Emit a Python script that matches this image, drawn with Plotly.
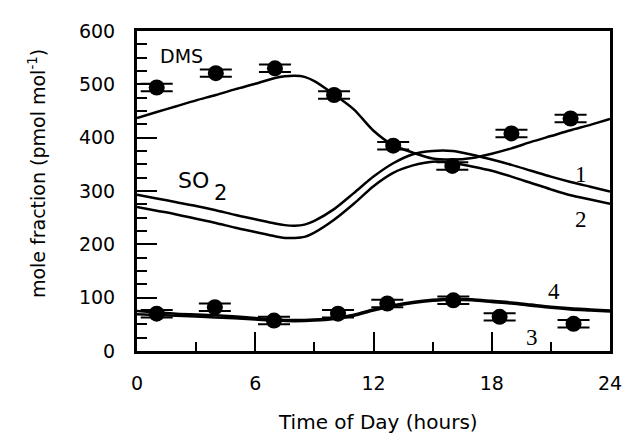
import plotly.graph_objects as go

# ---- measured data points ----
dms_obs_hour = [1, 4, 7, 10, 13, 16, 19, 22]
dms_obs_val = [494, 521, 530, 480, 385, 347, 408, 436]
dms_obs_err = [7, 7, 7, 7, 7, 7, 7, 7]

low_obs_hour = [1, 3.95, 6.95, 10.2, 12.7, 16.05, 18.4, 22.15]
low_obs_val = [70, 82, 57, 70, 89, 95, 64, 51]
low_obs_err = [7, 7, 7, 7, 7, 7, 7, 7]

# ---- model curves ----
dms_model_hour = [0, 1, 2, 3, 4, 5, 6, 7, 7.5, 8, 8.5, 9, 10, 11, 12, 13, 14, 15, 16, 17, 18, 19, 20, 21, 22, 23, 24]
dms_model_val = [437, 448, 459, 470, 480, 491, 501, 512, 515, 516, 514, 506, 481, 453, 413, 386, 372, 361, 359, 362, 370, 380, 392, 403, 414, 424, 435]

so2_1_hour = [0, 1, 2, 3, 4, 5, 6, 7, 7.5, 8, 8.5, 9, 10, 11, 12, 13, 14, 15, 16, 17, 18, 19, 20, 21, 22, 23, 24]
so2_1_val = [293, 286, 279, 272, 264, 255, 247, 239, 236, 235, 237, 244, 266, 296, 327, 352, 369, 375, 375, 368, 359, 349, 338, 327, 317, 308, 299]

so2_2_hour = [0, 1, 2, 3, 4, 5, 6, 7, 7.5, 8, 8.5, 9, 10, 11, 12, 13, 14, 15, 16, 17, 18, 19, 20, 21, 22, 23, 24]
so2_2_val = [270, 263, 256, 248, 240, 231, 223, 215, 212, 212, 214, 222, 246, 276, 309, 334, 348, 355, 353, 346, 338, 327, 315, 303, 292, 284, 276]

line3_hour = [0, 2, 4, 6, 7, 8, 9, 10, 11, 12, 13, 14, 15, 16, 17, 18, 19, 20, 21, 22, 23, 24]
line3_val = [69, 66, 63, 59, 57, 56, 57, 60, 66, 76, 84, 90, 94, 96, 95, 92, 89, 85, 81, 78, 76, 74]

line4_hour = [0, 2, 4, 6, 7, 8, 9, 10, 11, 12, 13, 14, 15, 16, 17, 18, 19, 20, 21, 22, 23, 24]
line4_val = [75, 70, 67, 62, 59, 58, 59, 62, 68, 78, 86, 92, 96, 98, 97, 94, 91, 87, 83, 80, 78, 76]

x_tick_vals = [0, 6, 12, 18, 24]
y_tick_vals = [0, 100, 200, 300, 400, 500, 600]

fig = go.Figure()

line_style = dict(color="black", width=2.5, shape="spline", smoothing=0.8)
for hx, vy in [(dms_model_hour, dms_model_val), (so2_1_hour, so2_1_val),
               (so2_2_hour, so2_2_val), (line3_hour, line3_val), (line4_hour, line4_val)]:
    fig.add_trace(go.Scatter(x=hx, y=vy, mode="lines", line=line_style,
                             hoverinfo="skip", showlegend=False))

marker_style = dict(color="black", size=16, symbol="circle")
for hx, vy, err in [(dms_obs_hour, dms_obs_val, dms_obs_err), (low_obs_hour, low_obs_val, low_obs_err)]:
    fig.add_trace(go.Scatter(
        x=hx, y=vy, mode="markers", marker=marker_style,
        error_y=dict(type="data", array=err, visible=True, color="black", thickness=2, width=16),
        showlegend=False))

ann = []
sans = "DejaVu Sans"
serif = "Liberation Serif"
ann.append(dict(x=2.27, y=554, text="DMS", font=dict(family=sans, size=19)))
ann.append(dict(x=2.87, y=319, text="SO", font=dict(family=sans, size=22)))
ann.append(dict(x=4.24, y=296, text="2", font=dict(family=sans, size=21)))
ann.append(dict(x=22.55, y=331, text="1", font=dict(family=serif, size=23)))
ann.append(dict(x=22.55, y=247, text="2", font=dict(family=serif, size=23)))
ann.append(dict(x=20.06, y=25, text="3", font=dict(family=serif, size=23)))
ann.append(dict(x=21.16, y=112, text="4", font=dict(family=serif, size=23)))
for a in ann:
    a.update(xref="x", yref="y", showarrow=False, xanchor="center", yanchor="middle")
    a["font"]["color"] = "black"

ann.append(dict(xref="paper", yref="paper", x=(36 - 137) / 481, y=(351 - 169) / 328,
                text="mole fraction (pmol mol<sup>-1</sup>)", textangle=-90, showarrow=False,
                xanchor="center", yanchor="middle", font=dict(family=sans, size=19, color="black")))
ann.append(dict(xref="paper", yref="paper", x=(382.5 - 137) / 481, y=(351 - 424) / 328,
                text="Time of Day (hours)", showarrow=False,
                xanchor="center", yanchor="middle", font=dict(family=sans, size=20, color="black")))

# page body has an 8px default margin, so the figure is sized to fill the rest of the window
fig.update_layout(
    width=626, height=431,
    margin=dict(l=129, r=16, t=15, b=88),
    plot_bgcolor="white", paper_bgcolor="white",
    annotations=ann,
    xaxis=dict(range=[0, 24], tickvals=x_tick_vals, ticks="inside", ticklen=19, tickwidth=2,
               tickcolor="black", showgrid=False, zeroline=False, showline=True, linecolor="black",
               linewidth=3, mirror=True, ticklabelstandoff=13,
               tickfont=dict(family=sans, size=19, color="black"),
               minor=dict(dtick=3, tick0=0, ticks="inside", ticklen=9, tickwidth=2, tickcolor="black", showgrid=False)),
    yaxis=dict(range=[0, 600], tickvals=y_tick_vals, ticks="inside", ticklen=20, tickwidth=2,
               tickcolor="black", showgrid=False, zeroline=False, showline=True, linecolor="black",
               linewidth=3, mirror=True, ticklabelstandoff=15,
               tickfont=dict(family=sans, size=19, color="black"),
               minor=dict(dtick=25, tick0=0, ticks="inside", ticklen=10, tickwidth=2, tickcolor="black", showgrid=False)),
)

fig.write_html("out.html")
